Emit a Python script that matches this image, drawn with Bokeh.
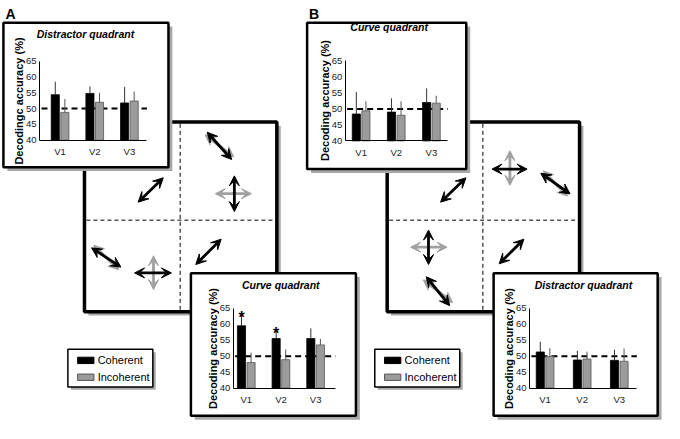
from bokeh.plotting import figure
from bokeh.models import Range1d, LinearAxis, FixedTicker, Arrow, VeeHead
from bokeh.embed import file_html
from bokeh.resources import INLINE
from bokeh.core.properties import value

FONT = "Liberation Sans"

# ---------------- data ----------------
categories = ["V1", "V2", "V3"]
series_names = ["Coherent", "Incoherent"]
y_ticks = [40, 45, 50, 55, 60, 65]
chance_level = 50

# Panel A - distractor quadrant
a_dist_coh = [54.4, 54.8, 51.8]
a_dist_coh_err = [4.1, 2.2, 5.1]
a_dist_inc = [48.8, 52.0, 52.4]
a_dist_inc_err = [4.2, 3.0, 3.0]

# Panel A - curve quadrant
a_curve_coh = [59.5, 55.5, 55.5]
a_curve_coh_err = [3.5, 2.3, 3.2]
a_curve_inc = [48.0, 48.9, 53.5]
a_curve_inc_err = [3.1, 3.2, 1.9]
a_curve_sig = [True, True, False]

# Panel B - curve quadrant
b_curve_coh = [48.4, 49.0, 52.0]
b_curve_coh_err = [6.9, 4.3, 4.4]
b_curve_inc = [49.4, 48.0, 51.8]
b_curve_inc_err = [3.0, 4.4, 2.3]

# Panel B - distractor quadrant
b_dist_coh = [51.3, 48.8, 48.7]
b_dist_coh_err = [3.2, 2.9, 3.3]
b_dist_inc = [49.9, 49.1, 48.4]
b_dist_inc_err = [2.6, 2.3, 4.0]

COH_COLOR = "black"
INC_COLOR = "#9b9b9b"
SHADOW = "#a8a8a8"

# ---------------- figure (coordinates = reference pixels) ----------------
W_REF, H_REF = 680, 439
p = figure(width=664, height=423, x_range=Range1d(0, W_REF), y_range=Range1d(H_REF, 0),
           output_backend="svg", toolbar_location=None,
           x_axis_location=None, y_axis_location=None,
           min_border=0, outline_line_color=None, background_fill_color="white")
p.grid.visible = False


def framed_box(l, t, r, b, lw, shadow_off):
    p.quad(left=[l + shadow_off], right=[r + shadow_off], top=[t + shadow_off],
           bottom=[b + shadow_off], fill_color=SHADOW, line_color=None)
    p.quad(left=[l], right=[r], top=[t], bottom=[b], fill_color="white",
           line_color="black", line_width=lw)


def big_square(l, t, size, vx, hy):
    framed_box(l, t, l + size, t + size, 3.5, 4)
    p.segment(x0=[vx], y0=[t + 2], x1=[vx], y1=[t + size - 2], line_color="black",
              line_width=1, line_dash="4 3")
    p.segment(x0=[l + 2], y0=[hy], x1=[l + size - 2], y1=[hy], line_color="#555555",
              line_width=1.6, line_dash="4 3")


# big squares with stimuli
big_square(86, 126, 197, 184, 228)
big_square(396, 126, 197, 494, 228)


def inset(key, box, ax_px, c1, s, p40, p65, xend, title, title_xy, ylabel,
          coh, coh_err, inc, inc_err, sig=None):
    framed_box(*box, 2.5, 4)
    k = (p40 - p65) / 25.0
    xn, yn = "x_" + key, "y_" + key
    p.extra_x_ranges[xn] = Range1d(1 + (0 - c1) / s, 1 + (W_REF - c1) / s)
    p.extra_y_ranges[yn] = Range1d(40 + (p40 - H_REF) / k, 40 + p40 / k)
    xs = [i + 1 for i in range(len(categories))]
    ax_d = 1 + (ax_px - c1) / s
    xend_d = 1 + (xend - c1) / s
    w = 8.3 / s
    off = 4.9 / s
    p.segment(x0=[ax_d + 2 / s], y0=[chance_level], x1=[xend_d], y1=[chance_level],
              x_range_name=xn, y_range_name=yn, line_color="black", line_width=2,
              line_dash="6 4")
    xc = [x - off for x in xs]
    xi = [x + off for x in xs]
    p.vbar(x=xc, top=coh, bottom=40, width=w, fill_color=COH_COLOR, line_color="black",
           line_width=0.8, x_range_name=xn, y_range_name=yn)
    p.vbar(x=xi, top=inc, bottom=40, width=w, fill_color=INC_COLOR, line_color="#555555",
           line_width=0.8, x_range_name=xn, y_range_name=yn)
    p.segment(x0=xc, y0=coh, x1=xc, y1=[v + e for v, e in zip(coh, coh_err)],
              x_range_name=xn, y_range_name=yn, line_color="#333333", line_width=1)
    p.segment(x0=xi, y0=inc, x1=xi, y1=[v + e for v, e in zip(inc, inc_err)],
              x_range_name=xn, y_range_name=yn, line_color="#555555", line_width=1)
    if sig is not None:
        sx = [x for x, f in zip(xc, sig) if f]
        sy = [v + e + 2.0 for v, e, f in zip(coh, coh_err, sig) if f]
        p.text(x=sx, y=sy, text=["*"] * len(sx), x_range_name=xn, y_range_name=yn,
               text_align="center", text_baseline="alphabetic", y_offset=9,
               text_font=value(FONT), text_font_style="bold", text_font_size="16px",
               text_color="black")
    p.text(x=[title_xy[0]], y=[title_xy[1]], text=[title], text_align="center",
           text_baseline="middle", text_font=value(FONT), text_font_style="bold italic",
           text_font_size="10.5px", text_color="black")
    yaxis = LinearAxis(x_range_name=xn, y_range_name=yn, fixed_location=ax_d,
                       bounds=(40, 65), ticker=FixedTicker(ticks=y_ticks),
                       axis_label=ylabel)
    xaxis = LinearAxis(x_range_name=xn, y_range_name=yn, fixed_location=40,
                       bounds=(ax_d, xend_d), ticker=FixedTicker(ticks=xs),
                       major_label_overrides={x: c for x, c in zip(xs, categories)})
    for ax in (yaxis, xaxis):
        ax.axis_line_color = "black"
        ax.axis_line_width = 1
        ax.major_tick_line_color = None
        ax.minor_tick_line_color = None
        ax.major_tick_out = 0
        ax.major_tick_in = 0
        ax.minor_tick_out = 0
        ax.minor_tick_in = 0
        ax.major_label_text_font = FONT
        ax.major_label_text_font_size = "9.5px"
        ax.major_label_text_color = "#222222"
        ax.axis_label_text_font = FONT
        ax.axis_label_text_font_style = "bold"
        ax.axis_label_text_font_size = "11px"
        ax.axis_label_text_color = "black"
    yaxis.major_label_standoff = 3
    yaxis.axis_label_standoff = -2
    xaxis.major_label_standoff = 6
    p.add_layout(yaxis, "left")
    p.add_layout(xaxis, "below")


inset("a1", (3, 23, 172, 173), 40, 61, 35.5, 145, 63, 150,
      "Distractor quadrant", (87, 35), "Decodingc accuracy (%)",
      a_dist_coh, a_dist_coh_err, a_dist_inc, a_dist_inc_err)
inset("a2", (195, 283, 364, 431), 238.3, 251.7, 35.5, 402.3, 319.3, 343,
      "Curve quadrant", (287, 295), "Decoding accuracy (%)",
      a_curve_coh, a_curve_coh_err, a_curve_inc, a_curve_inc_err, a_curve_sig)
inset("b1", (314, 23, 477, 175), 353, 369.3, 36, 145.7, 62.7, 458,
      "Curve quadrant", (398, 28), "Decoding accuracy (%)",
      b_curve_coh, b_curve_coh_err, b_curve_inc, b_curve_inc_err)
inset("b2", (505, 283, 673, 431), 541.7, 557.7, 38, 402.3, 319.3, 651.7,
      "Distractor quadrant", (597, 295), "Decoding accuracy (%)",
      b_dist_coh, b_dist_coh_err, b_dist_inc, b_dist_inc_err)


# legends
def legend_box(l, t):
    framed_box(l, t, l + 87, t + 39, 1.5, 3)
    colors = [COH_COLOR, INC_COLOR]
    lines = ["black", "#555555"]
    for i, name in enumerate(series_names):
        yc = t + 11.5 + i * 17.5
        p.quad(left=[l + 10], right=[l + 26.7], top=[yc - 3.3], bottom=[yc + 3.3],
               fill_color=colors[i], line_color=lines[i], line_width=1)
        p.text(x=[l + 30.5], y=[yc], text=[name], text_align="left", text_baseline="middle",
               text_font=value(FONT), text_font_size="11px", text_color="black")


legend_box(69, 362)
legend_box(383.3, 362)

# panel letters
p.text(x=[5, 316], y=[14, 14], text=["A", "B"], text_align="left", text_baseline="middle",
       text_font=value(FONT), text_font_style="bold", text_font_size="14px",
       text_color="black")

# stimulus arrows (x0, y0, x1, y1, colour) in reference pixels
GREY_ARROW = "#a0a0a0"
arrows = [
    # panel A
    (209.6, 139.4, 238.8, 162.2, GREY_ARROW),
    (211.7, 136.7, 236.7, 165.0, "black"),
    (220.0, 200.5, 257.0, 200.5, GREY_ARROW),
    (239.5, 182.0, 239.5, 219.0, "black"),
    (141.0, 209.3, 166.7, 184.0, "black"),
    (95.6, 254.0, 121.0, 279.4, GREY_ARROW),
    (93.3, 256.7, 123.3, 276.7, "black"),
    (156.7, 265.0, 156.7, 300.0, GREY_ARROW),
    (137.3, 282.7, 175.0, 282.7, "black"),
    (200.0, 274.0, 226.0, 247.7, "black"),
    # panel B
    (521.7, 156.0, 521.7, 191.7, GREY_ARROW),
    (503.3, 175.0, 539.3, 175.0, "black"),
    (556.0, 177.0, 580.6, 203.0, GREY_ARROW),
    (553.3, 179.3, 583.3, 200.7, "black"),
    (450.7, 209.3, 476.7, 184.0, "black"),
    (420.0, 256.0, 457.3, 256.0, GREY_ARROW),
    (438.3, 238.3, 438.3, 274.0, "black"),
    (433.0, 290.0, 463.0, 313.4, GREY_ARROW),
    (436.0, 286.7, 460.0, 316.7, "black"),
    (510.7, 273.3, 536.0, 247.7, "black"),
]
for x0, y0, x1, y1, c in arrows:
    p.add_layout(Arrow(start=VeeHead(size=10, fill_color=c, line_color=c, line_width=1),
                       end=VeeHead(size=10, fill_color=c, line_color=c, line_width=1),
                       x_start=x0, y_start=y0, x_end=x1, y_end=y1,
                       line_color=c, line_width=2.8))

open("out.html", "w").write(file_html(p, INLINE))
